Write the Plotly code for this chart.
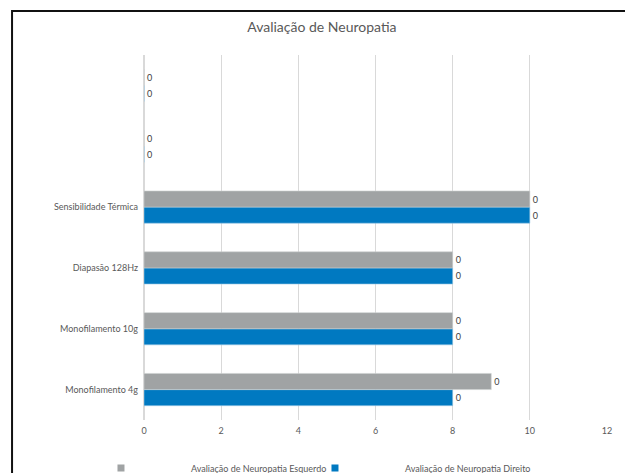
import plotly.graph_objects as go

# Categories listed bottom to top; the two top slots are empty
categorias = ["Monofilamento 4g", "Monofilamento 10g", "Diapasão 128Hz",
              "Sensibilidade Térmica", " ", "  "]
esquerdo = [9, 8, 8, 10, 0, 0]
direito = [8, 8, 8, 10, 0, 0]
# data labels as they appear on the chart
rotulos_esquerdo = [0, 0, 0, 0, 0, 0]
rotulos_direito = [0, 0, 0, 0, 0, 0]
ticks_x = [0, 2, 4, 6, 8, 10, 12]

NOME_ESQ = "Avaliação de Neuropatia Esquerdo"
NOME_DIR = "Avaliação de Neuropatia Direito"
COR_CINZA = "#A0A3A4"
COR_AZUL = "#0079C1"
COR_TEXTO = "#595959"
FONTE = "Lato, Open Sans, sans-serif"

fig = go.Figure()
# Right side first so that it sits below the left side in each group
fig.add_trace(go.Bar(
    y=categorias, x=direito, orientation="h", name=NOME_DIR,
    marker=dict(color=COR_AZUL, line=dict(color="#9cc9e6", width=0.6)),
    text=[str(v) for v in rotulos_direito], textposition="outside",
    textfont=dict(size=9, color="#404040", family=FONTE),
    cliponaxis=False, showlegend=False,
))
fig.add_trace(go.Bar(
    y=categorias, x=esquerdo, orientation="h", name=NOME_ESQ,
    marker=dict(color=COR_CINZA, line=dict(color="#cfd1d2", width=0.6)),
    text=[str(v) for v in rotulos_esquerdo], textposition="outside",
    textfont=dict(size=9, color="#404040", family=FONTE),
    cliponaxis=False, showlegend=False,
))

# Legend keys: small square markers, one legend box per series
for nome, cor, leg in [(NOME_ESQ, COR_CINZA, "legend"), (NOME_DIR, COR_AZUL, "legend2")]:
    fig.add_trace(go.Scatter(
        x=[None], y=[None], mode="markers", name=nome, legend=leg,
        marker=dict(symbol="square", size=7, color=cor),
        hoverinfo="skip",
    ))

legenda_base = dict(orientation="h", xanchor="left", y=-0.1315,
                    yanchor="middle", itemwidth=130, bgcolor="rgba(0,0,0,0)",
                    font=dict(size=9, color=COR_TEXTO, family=FONTE))

fig.update_layout(
    width=625, height=473,
    margin=dict(l=144, r=18, t=55, b=53, autoexpand=False),
    paper_bgcolor="white", plot_bgcolor="white",
    barmode="group", bargap=0.47, bargroupgap=0,
    font=dict(family=FONTE, size=9, color=COR_TEXTO),
    title=dict(text="Avaliação de Neuropatia", x=0.515, xanchor="center",
               y=1 - 27 / 473, yanchor="middle", yref="container",
               font=dict(size=14, color=COR_TEXTO, family=FONTE)),
    xaxis=dict(range=[0, 12], tickvals=ticks_x, showgrid=True,
               gridcolor="#D9D9D9", gridwidth=1, zeroline=True,
               zerolinecolor="#D9D9D9", showline=False, ticks="",
               ticklabelstandoff=4,
               tickfont=dict(size=9, color=COR_TEXTO)),
    yaxis=dict(categoryorder="array", categoryarray=categorias,
               showgrid=False, showline=False, ticks="",
               ticklabelstandoff=5,
               tickfont=dict(size=9, color=COR_TEXTO)),
    legend=dict(x=-0.2009, **legenda_base),
    legend2=dict(x=0.2613, **legenda_base),
    shapes=[dict(type="rect", xref="paper", yref="paper",
                 x0=-0.285, x1=1.1, y0=-0.2, y1=1.1205,
                 line=dict(color="#111111", width=2), layer="below")],
)

fig.write_html("out.html")
